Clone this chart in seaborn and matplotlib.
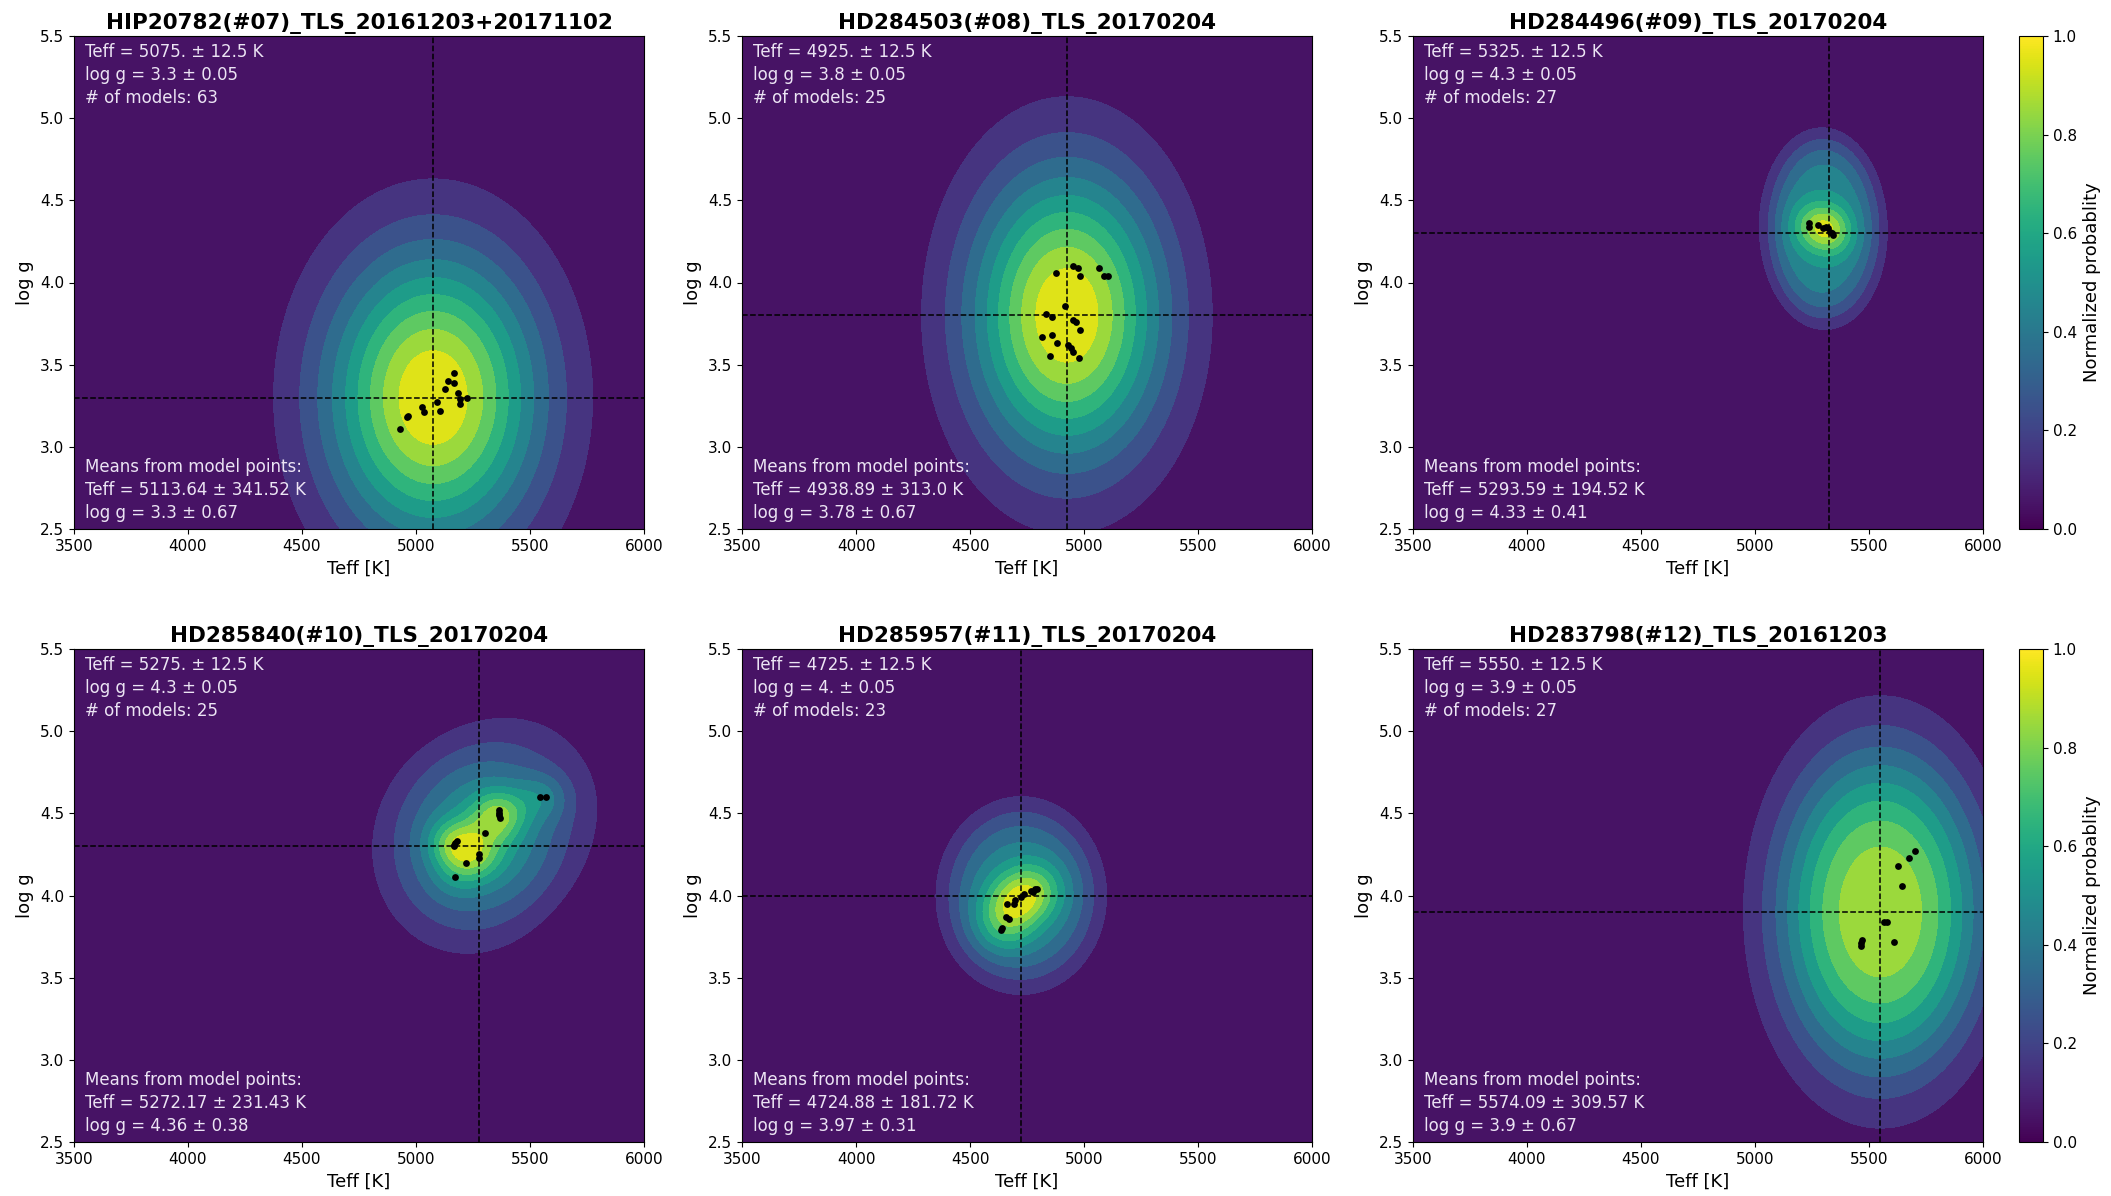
import numpy as np
import matplotlib
matplotlib.use("Agg")
import matplotlib.pyplot as plt
from matplotlib.colors import Normalize
from matplotlib.cm import ScalarMappable
import seaborn as sns

# ---- per-star results -------------------------------------------------------
titles = [
    "HIP20782(#07)_TLS_20161203+20171102",
    "HD284503(#08)_TLS_20170204",
    "HD284496(#09)_TLS_20170204",
    "HD285840(#10)_TLS_20170204",
    "HD285957(#11)_TLS_20170204",
    "HD283798(#12)_TLS_20161203",
]
best_teff = [5075, 4925, 5325, 5275, 4725, 5550]
best_teff_txt = ["5075.", "4925.", "5325.", "5275.", "4725.", "5550."]
best_logg = [3.3, 3.8, 4.3, 4.3, 4.0, 3.9]
best_logg_txt = ["3.3", "3.8", "4.3", "4.3", "4.", "3.9"]
n_models = [63, 25, 27, 25, 23, 27]
mean_teff = ["5113.64", "4938.89", "5293.59", "5272.17", "4724.88", "5574.09"]
std_teff = ["341.52", "313.0", "194.52", "231.43", "181.72", "309.57"]
mean_logg = ["3.3", "3.78", "4.33", "4.36", "3.97", "3.9"]
std_logg = ["0.67", "0.67", "0.41", "0.38", "0.31", "0.67"]

# model points (Teff, log g) for each star
teff_07 = [5165, 5139, 5168, 5129, 5186, 5193, 5193, 5224, 5091, 5107, 5025, 5037, 4967, 4961, 4930]
logg_07 = [3.45, 3.40, 3.39, 3.35, 3.33, 3.29, 3.26, 3.30, 3.27, 3.22, 3.24, 3.21, 3.19, 3.18, 3.11]

teff_08 = [4879, 4953, 4973, 4983, 5067, 5087, 5106, 4918, 4832, 4859, 4953,
           4963, 4983, 4816, 4859, 4881, 4930, 4944, 4950, 4851, 4979]
logg_08 = [4.06, 4.10, 4.09, 4.04, 4.09, 4.04, 4.04, 3.86, 3.81, 3.79, 3.77,
           3.76, 3.71, 3.67, 3.68, 3.63, 3.62, 3.60, 3.58, 3.55, 3.54]

teff_09 = [5235, 5278, 5310, 5331, 5336, 5321, 5238, 5300, 5340]
logg_09 = [4.36, 4.35, 4.34, 4.31, 4.30, 4.33, 4.34, 4.33, 4.29]

teff_10 = [5168, 5172, 5180, 5165, 5276, 5276, 5301, 5221, 5172, 5364, 5366, 5362, 5368, 5569, 5544]
logg_10 = [4.30, 4.32, 4.33, 4.31, 4.25, 4.23, 4.38, 4.20, 4.11, 4.52, 4.49, 4.50, 4.47, 4.60, 4.60]

teff_11 = [4635, 4639, 4659, 4669, 4663, 4694, 4698, 4722, 4737, 4767, 4786, 4777, 4796]
logg_11 = [3.79, 3.80, 3.87, 3.86, 3.95, 3.95, 3.97, 3.99, 4.01, 4.03, 4.04, 4.02, 4.04]

teff_12 = [5466, 5470, 5464, 5566, 5577, 5609, 5645, 5626, 5677, 5701]
logg_12 = [3.71, 3.73, 3.69, 3.84, 3.84, 3.72, 4.06, 4.18, 4.23, 4.27]

points_teff = [teff_07, teff_08, teff_09, teff_10, teff_11, teff_12]
points_logg = [logg_07, logg_08, logg_09, logg_10, logg_11, logg_12]

# probability surface: a broad part (flat-topped for shape > 1) reaching
# `broad_level`, centred either on the adopted solution or on every model,
# plus a narrow core around the models; widths in (Teff [K], log g)
broad_sigma = [(326, 0.62), (297, 0.62), (175, 0.40), (260, 0.40), (236, 0.38), (315, 0.69)]
broad_shape = [1.0, 1.0, 2.5, 1.4, 1.8, 1.3]
broad_at_best = [True, True, False, False, True, True]
narrow_sigma = [(1, 1), (1, 1), (70, 0.10), (80, 0.10), (90, 0.12), (1, 1)]
broad_level = [1.0, 1.0, 0.5, 0.5, 0.45, 1.0]
peak_prob = [1.0, 1.0, 0.95, 1.0, 1.0, 0.88]

# ---- figure -----------------------------------------------------------------
W, H = 2111, 1196
fig = plt.figure(figsize=(W / 100, H / 100), dpi=100)

col_left = [74, 742, 1413]
row_top = [36, 649]
ax_w, ax_h = 570, 493
cbar_left, cbar_w = 2019, 24

tgrid = np.linspace(3500, 6000, 500)
ggrid = np.linspace(2.5, 5.5, 500)
TT, GG = np.meshgrid(tgrid, ggrid)
levels = np.linspace(0, 1, 11)
text_color = "#ece4f4"


def kernel(t, g, sig, shape):
    u2 = ((TT - t) / sig[0]) ** 2 + ((GG - g) / sig[1]) ** 2
    return np.exp(-(0.5 * u2) ** shape)


def prob_surface(i):
    pt, pg = points_teff[i], points_logg[i]
    if broad_at_best[i]:
        zb = kernel(best_teff[i], best_logg[i], broad_sigma[i], broad_shape[i])
    else:
        zb = sum(kernel(t, g, broad_sigma[i], broad_shape[i]) for t, g in zip(pt, pg))
    z = zb / zb.max()
    if broad_level[i] < 1:
        zn = sum(kernel(t, g, narrow_sigma[i], 1.0) for t, g in zip(pt, pg))
        z = broad_level[i] * z + (1 - broad_level[i]) * zn / zn.max()
    return z / z.max() * peak_prob[i]


for i in range(6):
    r, c = divmod(i, 3)
    left = col_left[c] / W
    bottom = 1 - (row_top[r] + ax_h) / H
    ax = fig.add_axes([left, bottom, ax_w / W, ax_h / H])

    ax.contourf(TT, GG, prob_surface(i), levels=levels, cmap="viridis",
                vmin=0, vmax=1, zorder=1)

    ax.axvline(best_teff[i], color="black", ls="--", lw=1.1, zorder=2)
    ax.axhline(best_logg[i], color="black", ls="--", lw=1.1, zorder=2)

    sns.scatterplot(x=points_teff[i], y=points_logg[i], color="black", s=24,
                    linewidth=0, ax=ax, zorder=3, legend=False)

    ax.set_xlim(3500, 6000)
    ax.set_ylim(2.5, 5.5)
    ax.set_xticks(np.arange(3500, 6001, 500))
    ax.set_yticks(np.arange(2.5, 5.51, 0.5))
    ax.set_yticklabels([f"{v:.1f}" for v in np.arange(2.5, 5.51, 0.5)])
    ax.tick_params(labelsize=11)
    ax.set_xlabel("Teff [K]", fontsize=13)
    ax.set_ylabel("log g", fontsize=13)
    ax.set_title(titles[i], fontsize=15.5, fontweight="bold", pad=5)

    ax.text(0.02, 0.985,
            f"Teff = {best_teff_txt[i]} \u00b1 12.5 K\n"
            f"log g = {best_logg_txt[i]} \u00b1 0.05\n"
            f"# of models: {n_models[i]}",
            transform=ax.transAxes, ha="left", va="top", fontsize=12,
            color=text_color, linespacing=1.35, zorder=4)
    ax.text(0.02, 0.014,
            "Means from model points:\n"
            f"Teff = {mean_teff[i]} \u00b1 {std_teff[i]} K\n"
            f"log g = {mean_logg[i]} \u00b1 {std_logg[i]}",
            transform=ax.transAxes, ha="left", va="bottom", fontsize=12,
            color=text_color, linespacing=1.35, zorder=4)

    if c == 2:
        cax = fig.add_axes([cbar_left / W, bottom, cbar_w / W, ax_h / H])
        sm = ScalarMappable(norm=Normalize(0, 1), cmap="viridis")
        cb = fig.colorbar(sm, cax=cax)
        cb.set_ticks(np.arange(0, 1.01, 0.2))
        cb.ax.tick_params(labelsize=11)
        cb.set_label("Normalized probablity", fontsize=13)

fig.savefig("out.png", dpi=100)
